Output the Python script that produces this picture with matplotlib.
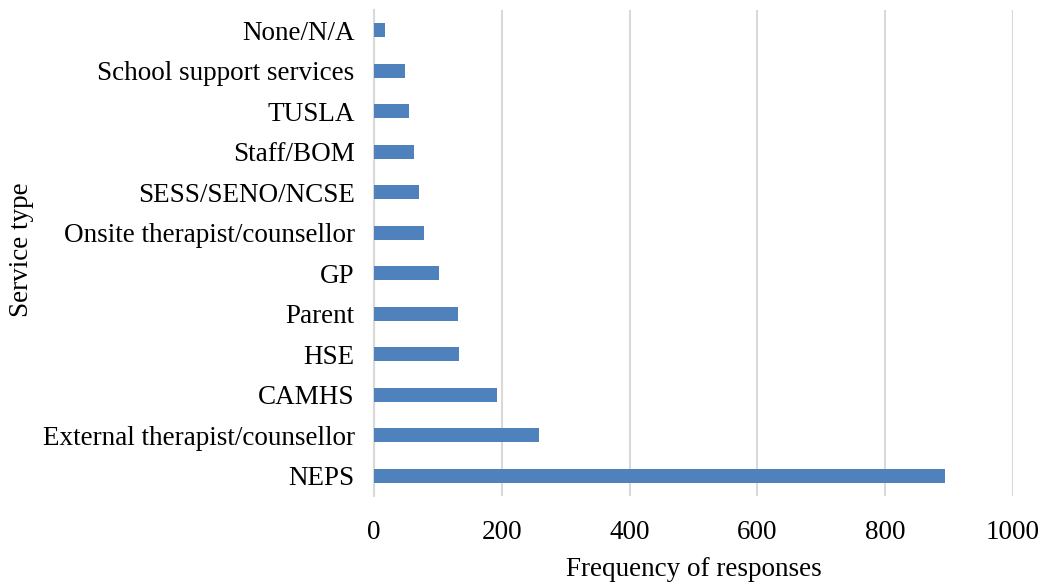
import matplotlib.pyplot as plt

# services listed bottom to top, as in the chart
services = [
    "NEPS",
    "External therapist/counsellor",
    "CAMHS",
    "HSE",
    "Parent",
    "GP",
    "Onsite therapist/counsellor",
    "SESS/SENO/NCSE",
    "Staff/BOM",
    "TUSLA",
    "School support services",
    "None/N/A",
]
responses = [894, 259, 192, 133, 132, 102, 78, 70, 62, 54, 49, 17]
x_ticks = [0, 200, 400, 600, 800, 1000]

FS = 19.5
plt.rcParams["font.family"] = ["Liberation Serif", "DejaVu Serif"]

fig = plt.figure(figsize=(10.43, 5.85), dpi=100)
ax = fig.add_axes([0.3586, 0.152, 0.6125, 0.831])

pos = list(range(len(services)))
ax.barh(pos, responses, height=0.345, color="#4f81bd", zorder=3)

ax.set_xlim(0, 1000)
ax.set_ylim(-0.5, len(services) - 0.5)
ax.set_xticks(x_ticks)
ax.set_xticklabels([str(t) for t in x_ticks], fontsize=FS)
ax.set_yticks(pos)
ax.set_yticklabels(services, fontsize=FS)
ax.tick_params(axis="y", length=0, pad=14)
ax.tick_params(axis="x", length=0, pad=17)

ax.grid(axis="x", color="#d9d9d9", linewidth=1.5, zorder=0)
for side in ["top", "right", "bottom"]:
    ax.spines[side].set_visible(False)
ax.spines["left"].set_color("#d9d9d9")
ax.spines["left"].set_linewidth(1.5)

ax.set_xlabel("Frequency of responses", fontsize=FS, labelpad=9)
fig.text(0.021, 0.574, "Service type", rotation=90, fontsize=FS,
         ha="center", va="center")

fig.savefig("out.png", dpi=100)
